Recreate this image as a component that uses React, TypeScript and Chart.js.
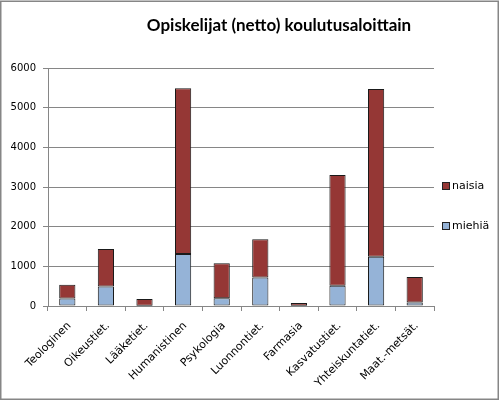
import React, { useEffect, useRef } from "react";
import { Chart, registerables } from "chart.js";

Chart.register(...registerables);

const categories = [
  "Teologinen",
  "Oikeustiet.",
  "Lääketiet.",
  "Humanistinen",
  "Psykologia",
  "Luonnontiet.",
  "Farmasia",
  "Kasvatustiet.",
  "Yhteiskuntatiet.",
  "Maat.-metsät.",
];
const miehia = [190, 490, 8, 1310, 195, 720, 8, 510, 1240, 90];
const naisia = [345, 945, 168, 4180, 880, 960, 65, 2790, 4230, 640];
const yTicks = [0, 1000, 2000, 3000, 4000, 5000, 6000];
const title = "Opiskelijat (netto) koulutusaloittain";
const seriesNames = ["miehiä", "naisia"];
const colors = ["#95B3D7", "#953735"];

const decorPlugin = {
  id: "decor",
  afterDraw(chart: any) {
    const ctx = chart.ctx;
    ctx.save();
    // outer frame
    ctx.strokeStyle = "#868686";
    ctx.lineWidth = 1.5;
    ctx.strokeRect(0.75, 1.25, 497.5, 398);
    // title
    ctx.fillStyle = "#000";
    ctx.font = "bold 17px Lato, 'Open Sans', sans-serif";
    ctx.textAlign = "center";
    ctx.textBaseline = "middle";
    ctx.fillText(title, 279, 26);
    // rotated category labels, positioned from the x scale
    const xs = chart.scales.x;
    ctx.font = "11px 'DejaVu Sans', sans-serif";
    ctx.textAlign = "right";
    ctx.textBaseline = "middle";
    ctx.fillStyle = "#000";
    categories.forEach((c, i) => {
      const x = xs.getPixelForTick(i);
      ctx.save();
      ctx.translate(x + 2, xs.top + 18);
      ctx.rotate(-Math.PI / 4);
      ctx.fillText(c, 0, 0);
      ctx.restore();
    });
    // legend (naisia above miehiä)
    const items = [
      { name: seriesNames[1], color: colors[1], y: 186 },
      { name: seriesNames[0], color: colors[0], y: 226 },
    ];
    ctx.font = "11px 'DejaVu Sans', sans-serif";
    ctx.textAlign = "left";
    for (const it of items) {
      ctx.fillStyle = it.color;
      ctx.fillRect(442.5, it.y - 3.5, 7, 7);
      ctx.strokeStyle = "#222";
      ctx.lineWidth = 1;
      ctx.strokeRect(442.5, it.y - 3.5, 7, 7);
      ctx.fillStyle = "#000";
      ctx.fillText(it.name, 452, it.y);
    }
    ctx.restore();
  },
};

export default function App() {
  const ref = useRef<HTMLCanvasElement | null>(null);
  useEffect(() => {
    document.body.style.margin = "0";
    const ds = (i: number, data: number[]) => ({
      label: seriesNames[i],
      data,
      backgroundColor: colors[i],
      borderColor: "#1a1a1a",
      borderWidth: 1,
      borderSkipped: false,
      barPercentage: 0.42,
      categoryPercentage: 1,
    });
    const chart = new Chart(ref.current as HTMLCanvasElement, {
      type: "bar",
      data: { labels: categories, datasets: [ds(0, miehia), ds(1, naisia)] },
      options: {
        animation: false,
        responsive: true,
        maintainAspectRatio: false,
        layout: { padding: { top: 68, right: 66, bottom: 0, left: 0 } },
        plugins: { legend: { display: false }, title: { display: false }, tooltip: { enabled: false } },
        scales: {
          x: {
            stacked: true,
            offset: true,
            grid: { offset: true, drawOnChartArea: false, drawTicks: true, tickLength: 5, color: "#868686" },
            border: { color: "#868686", width: 1 },
            ticks: { display: false, autoSkip: false },
            afterFit(scale: any) { scale.height = 96; },
          },
          y: {
            stacked: true,
            min: 0,
            max: 6000,
            afterBuildTicks(scale: any) { scale.ticks = yTicks.map((v) => ({ value: v })); },
            grid: { color: "#868686", tickLength: 5 },
            border: { color: "#868686", width: 1 },
            ticks: {
              color: "#000",
              padding: 7,
              font: { family: "'DejaVu Sans', sans-serif", size: 10 },
              callback: (v: any) => String(v),
            },
            afterFit(scale: any) { scale.width = 48; },
          },
        },
      },
      plugins: [decorPlugin],
    } as any);
    return () => chart.destroy();
  }, []);
  return (
    <div style={{ position: "absolute", left: 0, top: 0, width: 500, height: 402, background: "#fff" }}>
      <canvas ref={ref} />
    </div>
  );
}
